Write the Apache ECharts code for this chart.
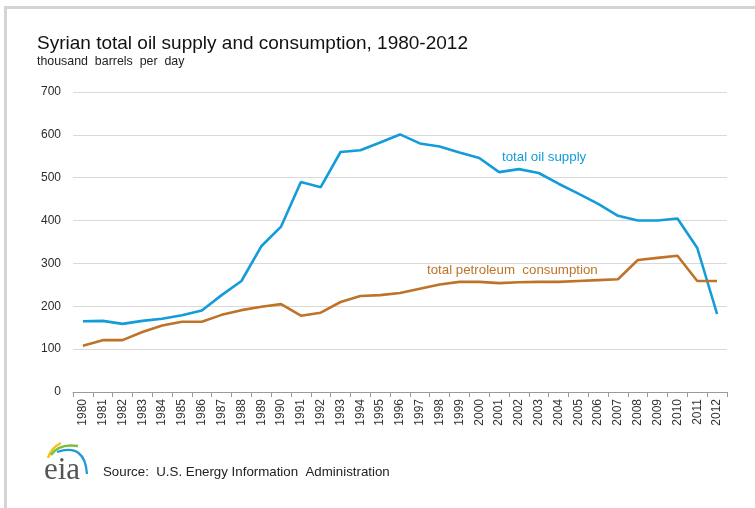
<!DOCTYPE html>
<html>
<head>
<meta charset="utf-8">
<script src="https://cdn.jsdelivr.net/npm/echarts@6/dist/echarts.min.js"></script>
<style>
  html, body { margin: 0; padding: 0; background: #fff; }
  #chart { width: 755px; height: 508px; }
</style>
</head>
<body>
<div id="chart"></div>
<script>
const years = ['1980', '1981', '1982', '1983', '1984', '1985', '1986', '1987', '1988', '1989',
  '1990', '1991', '1992', '1993', '1994', '1995', '1996', '1997', '1998', '1999',
  '2000', '2001', '2002', '2003', '2004', '2005', '2006', '2007', '2008', '2009',
  '2010', '2011', '2012']

const oilSupply = [165, 166, 159, 166, 171, 179, 190, 226, 259, 340,
  386, 490, 478, 560, 564, 582, 601, 580, 573, 559,
  546, 513, 520, 511, 486, 463, 439, 411, 400, 400,
  405, 336, 182]

const consumption = [108, 121, 121, 140, 155, 164, 164, 180, 191, 199,
  205, 178, 185, 210, 224, 226, 231, 241, 251, 257,
  257, 254, 256, 257, 257, 259, 261, 263, 308, 313,
  318, 259, 259]

const yTicks = [0, 100, 200, 300, 400, 500, 600, 700]

const BLUE = '#139cd9'
const BROWN = '#be7329'
const FONT = '"Liberation Sans", Arial, sans-serif'

const chart = echarts.init(document.getElementById('chart'))

const option = {
  backgroundColor: '#fff',
  animation: false,
  textStyle: { fontFamily: FONT },
  grid: { left: 73, right: 28, top: 92, bottom: 116, containLabel: false },
  xAxis: {
    type: 'category',
    data: years,
    boundaryGap: true,
    axisLine: { lineStyle: { color: '#9a9a9a', width: 1 } },
    axisTick: { show: true, length: 5, lineStyle: { color: '#9a9a9a' } },
    axisLabel: {
      rotate: 90,
      interval: 0,
      margin: 7,
      color: '#333',
      fontSize: 12,
      fontFamily: FONT
    }
  },
  yAxis: {
    type: 'value',
    min: yTicks[0],
    max: yTicks[yTicks.length - 1],
    interval: 100,
    axisLine: { show: false },
    axisTick: { show: false },
    axisLabel: {
      color: '#2b2b2b',
      fontSize: 12,
      margin: 12,
      fontFamily: FONT
    },
    splitLine: { lineStyle: { color: '#d9d9d9', width: 1 } }
  },
  series: [
    {
      name: 'total oil supply',
      type: 'line',
      data: oilSupply,
      symbol: 'none',
      lineStyle: { color: BLUE, width: 2.6 },
      itemStyle: { color: BLUE }
    },
    {
      name: 'total petroleum consumption',
      type: 'line',
      data: consumption,
      symbol: 'none',
      lineStyle: { color: BROWN, width: 2.6 },
      itemStyle: { color: BROWN }
    }
  ],
  graphic: [
    // frame
    { type: 'rect', shape: { x: 4, y: 6, width: 760, height: 3 }, style: { fill: '#d4d4d4' } },
    { type: 'rect', shape: { x: 4, y: 6, width: 3, height: 510 }, style: { fill: '#d4d4d4' } },
    // titles
    {
      type: 'text', left: 37, top: 34,
      style: { text: 'Syrian total oil supply and consumption, 1980-2012', fill: '#111', font: '19px ' + FONT }
    },
    {
      type: 'text', left: 37, top: 56,
      style: { text: 'thousand  barrels  per  day', fill: '#222', font: '12.4px ' + FONT }
    },
    // series annotations
    {
      type: 'text', left: 502, top: 151,
      style: { text: 'total oil supply', fill: BLUE, font: '13.3px ' + FONT }
    },
    {
      type: 'text', left: 427, top: 264,
      style: { text: 'total petroleum  consumption', fill: BROWN, font: '13.3px ' + FONT }
    },
    // eia logo
    {
      type: 'bezierCurve', shape: { x1: 48, y1: 458, cpx1: 51, cpy1: 448, x2: 61, y2: 443 },
      style: { stroke: '#f2c21b', lineWidth: 2.5, fill: null }
    },
    {
      type: 'bezierCurve', shape: { x1: 51, y1: 455, cpx1: 59, cpy1: 443, x2: 78, y2: 446 },
      style: { stroke: '#7dbf3f', lineWidth: 2.5, fill: null }
    },
    {
      type: 'bezierCurve', shape: { x1: 57, y1: 452, cpx1: 85, cpy1: 443, x2: 87, y2: 474 },
      style: { stroke: '#1b9ad6', lineWidth: 2.3, fill: null }
    },
    {
      type: 'text', left: 44, top: 455,
      style: { text: 'eia', fill: '#555', font: '31px "Liberation Serif", "DejaVu Serif", serif' }
    },
    {
      type: 'text', left: 103, top: 466,
      style: { text: 'Source:  U.S. Energy Information  Administration', fill: '#222', font: '13.3px ' + FONT }
    }
  ]
}

chart.setOption(option)
</script>
</body>
</html>
